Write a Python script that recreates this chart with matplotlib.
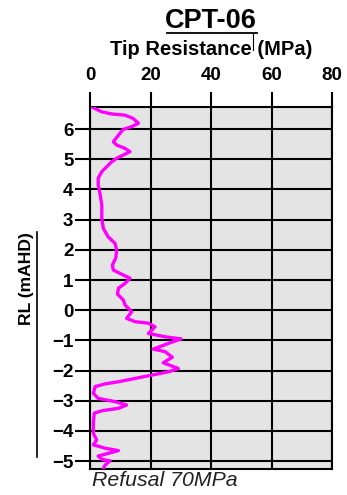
import numpy as np
import matplotlib
matplotlib.use('Agg')
import matplotlib.pyplot as plt
from matplotlib.lines import Line2D

plt.rcParams['font.family'] = ['Liberation Sans', 'DejaVu Sans']

# tip resistance trace (MPa vs RL in mAHD)
qc = [0.8, 3.9, 7.2, 11.6, 14.3, 16.0, 13.8, 11.0, 9.9, 8.8, 7.7, 8.8, 11.6, 13.2,
      11.0, 8.8, 7.2, 5.5, 3.9, 2.7, 2.7, 3.3, 3.9, 3.9, 4.4, 6.0, 8.3, 8.8, 8.5,
      7.4, 7.7, 10.5, 13.2, 11.6, 9.4, 9.1, 11.0, 11.6, 13.8, 12.1, 14.9, 19.3,
      21.5, 19.3, 24.8, 30.1, 25.9, 20.9, 24.8, 27.2, 24.2, 29.2, 25.9, 20.4,
      14.9, 9.4, 5.0, 1.7, 1.1, 2.7, 8.3, 12.1, 9.4, 3.9, 1.4, 1.1, 1.1, 2.2,
      1.1, 5.0, 9.4, 6.1, 2.7, 3.9, 6.6, 5.0, 4.4]
rl = [6.72, 6.57, 6.50, 6.46, 6.35, 6.19, 6.08, 5.99, 5.86, 5.72, 5.58, 5.47, 5.36, 5.25,
      5.14, 5.03, 4.92, 4.75, 4.59, 4.37, 4.15, 3.87, 3.48, 3.04, 2.71, 2.43, 2.21, 1.99, 1.72,
      1.50, 1.33, 1.19, 1.06, 0.89, 0.73, 0.53, 0.34, 0.17, -0.05, -0.27, -0.38, -0.43,
      -0.55, -0.77, -0.88, -0.95, -1.10, -1.29, -1.37, -1.56, -1.74, -1.93, -2.04, -2.15,
      -2.26, -2.37, -2.44, -2.53, -2.75, -2.92, -3.03, -3.14, -3.25, -3.33, -3.41, -3.75, -4.08, -4.30,
      -4.46, -4.57, -4.65, -4.74, -4.83, -4.94, -4.99, -5.13, -5.24]

x_ticks = [0, 20, 40, 60, 80]
y_ticks = [6, 5, 4, 3, 2, 1, 0, -1, -2, -3, -4, -5]

fig = plt.figure(figsize=(3.47, 4.95), dpi=100)
ax = fig.add_axes([0.2594, 0.0525, 0.6974, 0.7313])
ax.set_facecolor('#e4e4e4')

ax.plot(qc, rl, color='#ff00ff', lw=2.4, solid_capstyle='round', solid_joinstyle='round', zorder=3)

ax.set_xlim(0, 80)
ax.set_ylim(-5.26, 6.73)
ax.set_xticks(x_ticks)
ax.set_yticks(y_ticks)
ax.xaxis.tick_top()
ax.tick_params(axis='x', length=10.8, width=1.5, pad=6, labelsize=13.5, colors='black')
ax.tick_params(axis='y', length=10.5, width=1.5, pad=1.5, labelsize=13.5, colors='black')
for lab in ax.get_xticklabels() + ax.get_yticklabels():
    lab.set_fontweight('bold')
ax.grid(True, color='black', lw=1.5, zorder=1)
ax.set_axisbelow(True)
for s in ax.spines.values():
    s.set_linewidth(1.5)

fig.text(0.608, 0.958, 'CPT-06', ha='center', va='center', fontsize=19.5, fontweight='bold')
fig.add_artist(Line2D([167/347, 257/347], [1 - 33/495, 1 - 33/495], color='black', lw=1.3))
fig.add_artist(Line2D([253/347, 253/347], [1 - 33/495, 1 - 50/495], color='black', lw=0.8))
fig.text(0.608, 0.899, 'Tip Resistance (MPa)', ha='center', va='center', fontsize=14.5, fontweight='bold')

fig.text(27/347, 1 - 279/495, 'RL (mAHD)', ha='center', va='center', rotation=90,
         fontsize=12.6, fontweight='bold')
fig.add_artist(Line2D([37/347, 37/347], [1 - 232/495, 1 - 457/495], color='black', lw=1.2))

fig.text(92/347, 1 - 480/495, 'Refusal 70MPa', ha='left', va='center', fontsize=15.3,
         fontstyle='italic', color='#222222')

fig.savefig('out.png', dpi=100)
